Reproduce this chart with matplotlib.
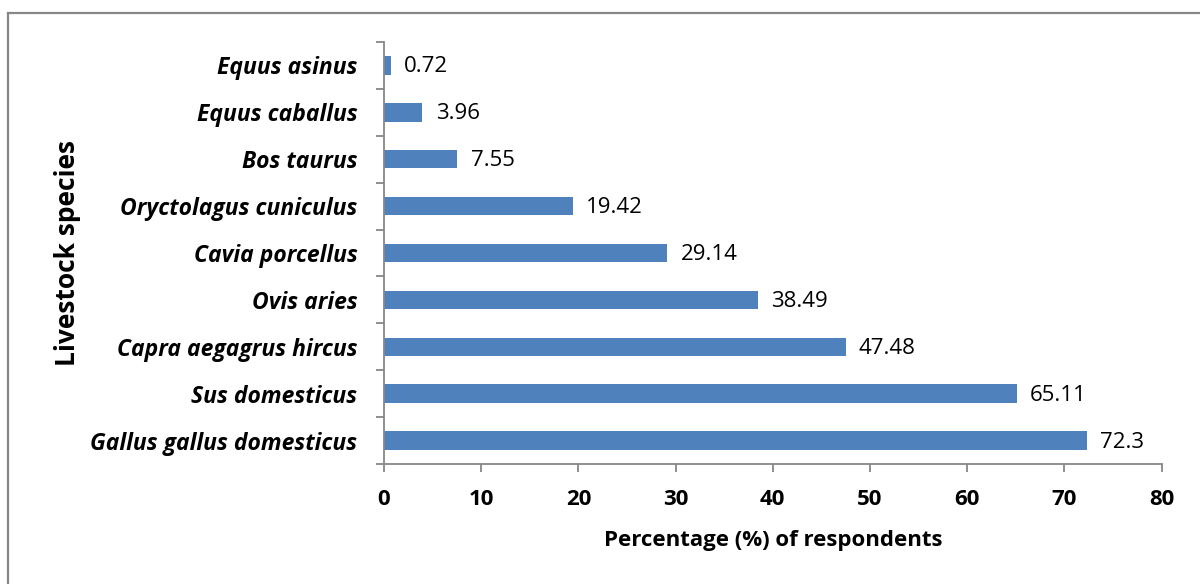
import matplotlib
matplotlib.use('Agg')
import matplotlib.pyplot as plt
from matplotlib.lines import Line2D

# species from bottom to top
species = ['Gallus gallus domesticus', 'Sus domesticus', 'Capra aegagrus hircus',
           'Ovis aries', 'Cavia porcellus', 'Oryctolagus cuniculus',
           'Bos taurus', 'Equus caballus', 'Equus asinus']
percent = [72.3, 65.11, 47.48, 38.49, 29.14, 19.42, 7.55, 3.96, 0.72]
value_labels = ['72.3', '65.11', '47.48', '38.49', '29.14', '19.42', '7.55', '3.96', '0.72']
x_ticks = [0, 10, 20, 30, 40, 50, 60, 70, 80]

plt.rcParams['font.family'] = ['Open Sans', 'DejaVu Sans']

fig = plt.figure(figsize=(12, 5.84), dpi=100)
ax = fig.add_axes([0.32, 0.205, 0.648, 0.7236])

pos = list(range(len(species)))
ax.barh(pos, percent, height=0.4, color='#4F81BD')

for p, v, lab in zip(pos, percent, value_labels):
    ax.annotate(lab, (v, p), xytext=(9.5, -1), textcoords='offset points',
                va='center', ha='left', fontsize=16, color='black')

ax.set_xlim(0, 80)
ax.set_ylim(-0.5, len(species) - 0.5)
ax.set_xticks(x_ticks)
ax.set_xticklabels([str(t) for t in x_ticks], fontsize=16, fontweight='bold')
ax.set_yticks(pos)
ax.set_yticklabels(species, fontsize=16.5, fontweight='bold', style='italic')
ax.set_yticks([p - 0.5 for p in pos] + [len(species) - 0.5], minor=True)

ax.tick_params(axis='y', which='major', length=0, pad=19)
ax.tick_params(axis='y', which='minor', length=6, width=1.3, color='#878787')
ax.tick_params(axis='x', which='major', length=6, width=1.3, color='#878787', pad=12)

for side in ['top', 'right']:
    ax.spines[side].set_visible(False)
for side in ['left', 'bottom']:
    ax.spines[side].set_color('#878787')
    ax.spines[side].set_linewidth(1.3)

ax.set_xlabel('Percentage (%) of respondents', fontsize=16, fontweight='bold', labelpad=14)
ax.set_ylabel('Livestock species', fontsize=19, fontweight='bold', labelpad=7)

# frame remains (left and top edges of the original chart border)
fig.add_artist(Line2D([8 / 1200, 8 / 1200], [0, 1 - 12.5 / 584], transform=fig.transFigure,
                      color='#878787', linewidth=1.6))
fig.add_artist(Line2D([8 / 1200, 1], [1 - 12.5 / 584, 1 - 12.5 / 584], transform=fig.transFigure,
                      color='#878787', linewidth=1.6))

fig.savefig('out.png', dpi=100)
